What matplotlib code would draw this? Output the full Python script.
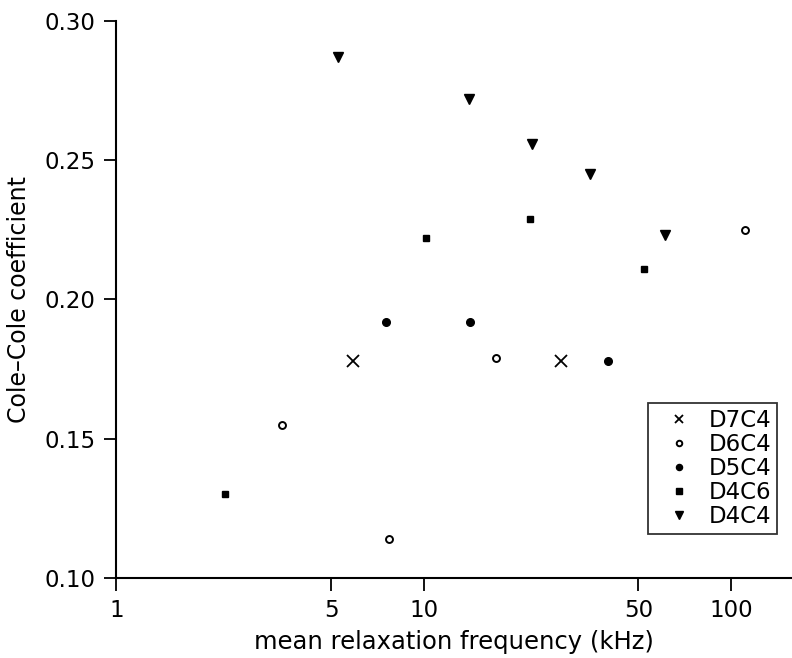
import numpy as np
import matplotlib
matplotlib.use("Agg")
import matplotlib.pyplot as plt

# values (x in kHz, y = Cole-Cole coefficient)
d7c4_x = [5.87, 27.9]
d7c4_y = [0.178, 0.178]
d6c4_x = [3.47, 7.69, 17.2, 111.0]
d6c4_y = [0.155, 0.114, 0.179, 0.225]
d5c4_x = [7.52, 14.2, 39.7]
d5c4_y = [0.192, 0.192, 0.178]
d4c6_x = [2.26, 10.2, 22.1, 52.1]
d4c6_y = [0.130, 0.222, 0.229, 0.211]
d4c4_x = [5.25, 14.0, 22.6, 34.7, 61.0]
d4c4_y = [0.287, 0.272, 0.256, 0.245, 0.223]

xticks = [1, 5, 10, 50, 100]
yticks = [0.10, 0.15, 0.20, 0.25, 0.30]

plt.rcParams['font.family'] = ['DejaVu Sans']

fig = plt.figure(figsize=(7.92, 6.58), dpi=100)
ax = fig.add_axes([0.147, 0.1216, 0.853, 0.8465])

ax.plot(d7c4_x, d7c4_y, 'x', color='k', ms=8, mew=1.3, label='D7C4')
ax.plot(d6c4_x, d6c4_y, 'o', mfc='white', mec='k', ms=5, mew=1.4, label='D6C4')
ax.plot(d5c4_x, d5c4_y, 'o', color='k', ms=5.5, label='D5C4')
ax.plot(d4c6_x, d4c6_y, 's', color='k', ms=5, label='D4C6')
ax.plot(d4c4_x, d4c4_y, 'v', color='k', ms=6.5, label='D4C4')

ax.set_xscale('log')
ax.set_xlim(1, 158)
ax.set_ylim(0.10, 0.30)
ax.set_xticks(xticks)
ax.set_xticklabels([str(t) for t in xticks])
ax.xaxis.set_minor_locator(matplotlib.ticker.NullLocator())
ax.set_yticks(yticks)
ax.set_yticklabels(['%.2f' % t for t in yticks])

for s in ['top', 'right']:
    ax.spines[s].set_visible(False)
ax.spines['left'].set_linewidth(1.5)
ax.spines['bottom'].set_linewidth(1.5)
ax.tick_params(direction='out', length=9, width=1.3, labelsize=16.5, pad=6)

ax.set_xlabel('mean relaxation frequency (kHz)', fontsize=17.5, labelpad=6)
ax.set_ylabel('Cole\u2013Cole coefficient', fontsize=17, labelpad=10)

leg = ax.legend(loc='lower right', bbox_to_anchor=(0.978, 0.079), fontsize=16.5,
                frameon=True, fancybox=False, edgecolor='k', handlelength=2.2,
                handletextpad=0.2, labelspacing=0.05, borderpad=0.25,
                borderaxespad=0, markerscale=0.8)
leg.get_frame().set_linewidth(1.3)

fig.savefig('out.png', dpi=100)
